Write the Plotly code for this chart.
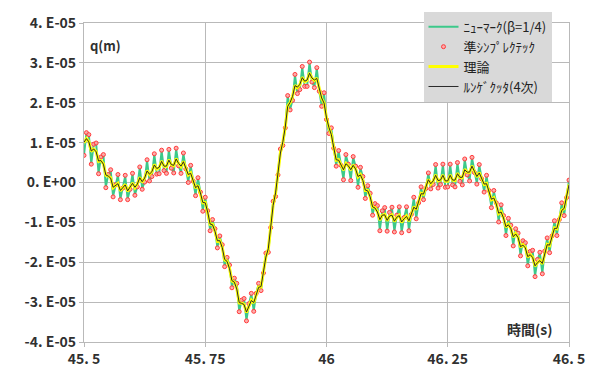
import numpy as np
import plotly.graph_objects as go

# Time grid: 45.5 s .. 46.5 s, step 0.005 s
T0 = 45.5
DT = 0.005
time = np.round(T0 + DT * np.arange(201), 3)

# Displacement q in units of 1e-5 m
SCALE = 1e-5

newmark_q = [
    0.70, 1.24, 1.19, 0.48, 0.95, 0.98, 0.24, 0.63, 0.69, -0.11,
    0.20, 0.30, -0.34, -0.06, 0.18, -0.41, -0.14, 0.16, -0.41, -0.17,
    0.21, -0.30, -0.10, 0.37, -0.15, 0.02, 0.55, 0.05, 0.16, 0.70,
    0.22, 0.23, 0.79, 0.31, 0.24, 0.81, 0.37, 0.25, 0.84, 0.43,
    0.25, 0.72, 0.34, 0.02, 0.41, 0.04, -0.31, 0.10, -0.24, -0.70,
    -0.39, -0.71, -1.19, -0.95, -1.17, -1.62, -1.36, -1.57, -2.09, -1.89,
    -2.08, -2.62, -2.41, -2.54, -3.22, -2.96, -2.92, -3.45, -3.05, -2.80,
    -3.21, -2.78, -2.55, -2.69, -2.27, -1.79, -1.73, -1.13, -0.49, -0.33,
    0.19, 0.82, 0.95, 1.37, 2.16, 1.84, 2.07, 2.69, 2.24, 2.34,
    2.89, 2.42, 2.42, 3.00, 2.53, 2.40, 2.86, 2.30, 1.93, 2.23,
    1.58, 1.25, 1.35, 0.86, 0.43, 0.78, 0.43, 0.09, 0.68, 0.46,
    0.07, 0.63, 0.40, -0.10, 0.36, 0.14, -0.38, -0.09, -0.28, -0.80,
    -0.54, -0.59, -1.19, -0.72, -0.64, -1.20, -0.76, -0.64, -1.22, -0.82,
    -0.63, -1.24, -0.88, -0.63, -1.19, -0.80, -0.39, -0.89, -0.51, -0.13,
    -0.41, -0.15, 0.22, -0.14, -0.04, 0.43, -0.12, -0.04, 0.44, -0.11,
    -0.10, 0.44, -0.05, -0.10, 0.48, 0.04, -0.04, 0.57, 0.20, 0.06,
    0.61, 0.25, -0.02, 0.43, 0.09, -0.22, 0.16, -0.20, -0.61, -0.22,
    -0.51, -0.97, -0.58, -0.84, -1.31, -0.92, -1.08, -1.57, -1.17, -1.28,
    -1.82, -1.47, -1.52, -2.07, -1.74, -1.71, -2.34, -1.94, -1.77, -2.27,
    -1.72, -1.41, -1.74, -1.34, -0.98, -1.31, -0.93, -0.53, -0.81, -0.38,
    0.05,
]

symplectic_q = [
    0.68, 1.25, 1.20, 0.46, 0.96, 0.99, 0.22, 0.64, 0.70, -0.13,
    0.20, 0.32, -0.36, -0.06, 0.20, -0.43, -0.14, 0.18, -0.43, -0.17,
    0.23, -0.32, -0.11, 0.39, -0.17, 0.01, 0.57, 0.04, 0.15, 0.72,
    0.21, 0.22, 0.81, 0.30, 0.23, 0.83, 0.36, 0.24, 0.86, 0.42,
    0.23, 0.74, 0.34, 0.00, 0.43, 0.04, -0.33, 0.12, -0.24, -0.72,
    -0.37, -0.71, -1.21, -0.93, -1.16, -1.64, -1.34, -1.56, -2.11, -1.88,
    -2.07, -2.64, -2.40, -2.53, -3.24, -2.95, -2.91, -3.47, -3.04, -2.78,
    -3.23, -2.78, -2.53, -2.71, -2.27, -1.77, -1.75, -1.13, -0.47, -0.35,
    0.19, 0.84, 0.93, 1.37, 2.18, 1.82, 2.06, 2.71, 2.23, 2.33,
    2.91, 2.41, 2.41, 3.02, 2.52, 2.38, 2.88, 2.29, 1.91, 2.25,
    1.58, 1.23, 1.37, 0.86, 0.41, 0.80, 0.43, 0.07, 0.70, 0.46,
    0.05, 0.65, 0.41, -0.12, 0.38, 0.15, -0.40, -0.08, -0.27, -0.82,
    -0.53, -0.58, -1.21, -0.71, -0.63, -1.22, -0.75, -0.62, -1.24, -0.82,
    -0.61, -1.26, -0.88, -0.61, -1.21, -0.80, -0.37, -0.91, -0.51, -0.11,
    -0.43, -0.15, 0.24, -0.16, -0.05, 0.45, -0.14, -0.05, 0.46, -0.12,
    -0.11, 0.46, -0.06, -0.11, 0.50, 0.03, -0.06, 0.59, 0.19, 0.04,
    0.63, 0.25, -0.04, 0.45, 0.09, -0.24, 0.18, -0.20, -0.63, -0.20,
    -0.51, -0.99, -0.56, -0.83, -1.33, -0.90, -1.07, -1.59, -1.16, -1.27,
    -1.84, -1.46, -1.51, -2.09, -1.73, -1.70, -2.36, -1.93, -1.75, -2.29,
    -1.72, -1.39, -1.76, -1.34, -0.96, -1.33, -0.93, -0.51, -0.83, -0.38,
    0.06,
]

theory_q = [
    1.00, 1.10, 1.03, 0.78, 0.84, 0.78, 0.53, 0.55, 0.47, 0.18,
    0.16, 0.12, -0.13, -0.07, -0.02, -0.21, -0.13, -0.05, -0.22, -0.13,
    -0.01, -0.13, -0.04, 0.13, 0.01, 0.11, 0.30, 0.20, 0.27, 0.45,
    0.34, 0.37, 0.54, 0.41, 0.40, 0.57, 0.45, 0.42, 0.60, 0.48,
    0.40, 0.53, 0.36, 0.19, 0.24, 0.04, -0.14, -0.07, -0.26, -0.51,
    -0.50, -0.74, -1.05, -1.05, -1.22, -1.47, -1.45, -1.63, -1.94, -1.97,
    -2.15, -2.47, -2.50, -2.66, -3.02, -3.03, -3.05, -3.26, -3.10, -2.95,
    -3.02, -2.81, -2.62, -2.62, -2.28, -1.86, -1.67, -1.13, -0.56, -0.27,
    0.20, 0.75, 1.01, 1.39, 1.92, 2.00, 2.16, 2.44, 2.38, 2.45,
    2.64, 2.53, 2.56, 2.75, 2.62, 2.56, 2.62, 2.37, 2.11, 2.00,
    1.62, 1.37, 1.21, 0.87, 0.56, 0.57, 0.42, 0.31, 0.48, 0.42,
    0.31, 0.44, 0.34, 0.14, 0.20, 0.05, -0.20, -0.20, -0.36, -0.62,
    -0.63, -0.73, -0.94, -0.82, -0.80, -0.96, -0.84, -0.81, -0.98, -0.87,
    -0.82, -1.00, -0.91, -0.84, -0.97, -0.80, -0.61, -0.68, -0.49, -0.27,
    -0.30, -0.12, 0.08, -0.04, 0.04, 0.19, 0.04, 0.06, 0.19, 0.03,
    0.03, 0.19, 0.06, 0.05, 0.23, 0.13, 0.12, 0.33, 0.26, 0.25,
    0.42, 0.28, 0.14, 0.25, 0.10, -0.05, -0.02, -0.21, -0.43, -0.38,
    -0.54, -0.78, -0.73, -0.89, -1.12, -1.05, -1.15, -1.37, -1.28, -1.37,
    -1.62, -1.56, -1.63, -1.87, -1.81, -1.87, -2.10, -2.01, -1.95, -2.04,
    -1.76, -1.55, -1.58, -1.35, -1.14, -1.16, -0.92, -0.69, -0.66, -0.35,
    -0.05,
]

runge_kutta_q = [
    1.01, 1.10, 1.02, 0.79, 0.84, 0.77, 0.54, 0.55, 0.46, 0.19,
    0.16, 0.11, -0.12, -0.07, -0.03, -0.20, -0.13, -0.06, -0.21, -0.13,
    -0.02, -0.12, -0.04, 0.12, 0.02, 0.11, 0.29, 0.21, 0.27, 0.44,
    0.35, 0.38, 0.53, 0.41, 0.41, 0.56, 0.45, 0.43, 0.59, 0.48,
    0.41, 0.52, 0.36, 0.20, 0.23, 0.04, -0.13, -0.08, -0.26, -0.50,
    -0.51, -0.74, -1.04, -1.06, -1.22, -1.46, -1.46, -1.63, -1.93, -1.98,
    -2.16, -2.46, -2.50, -2.67, -3.01, -3.03, -3.06, -3.25, -3.10, -2.96,
    -3.01, -2.81, -2.63, -2.61, -2.28, -1.87, -1.66, -1.13, -0.57, -0.26,
    0.20, 0.74, 1.02, 1.39, 1.91, 2.01, 2.16, 2.43, 2.39, 2.46,
    2.63, 2.54, 2.57, 2.74, 2.62, 2.57, 2.61, 2.37, 2.12, 1.99,
    1.62, 1.38, 1.20, 0.87, 0.57, 0.56, 0.42, 0.32, 0.47, 0.42,
    0.32, 0.43, 0.34, 0.15, 0.19, 0.05, -0.19, -0.21, -0.36, -0.61,
    -0.64, -0.74, -0.93, -0.82, -0.81, -0.95, -0.84, -0.82, -0.97, -0.87,
    -0.83, -0.99, -0.91, -0.85, -0.96, -0.80, -0.62, -0.67, -0.49, -0.28,
    -0.29, -0.12, 0.07, -0.03, 0.04, 0.18, 0.05, 0.06, 0.18, 0.04,
    0.04, 0.18, 0.06, 0.06, 0.22, 0.13, 0.13, 0.32, 0.26, 0.26,
    0.41, 0.28, 0.15, 0.24, 0.10, -0.04, -0.03, -0.21, -0.42, -0.39,
    -0.54, -0.77, -0.74, -0.89, -1.11, -1.06, -1.15, -1.36, -1.29, -1.38,
    -1.61, -1.57, -1.64, -1.86, -1.81, -1.88, -2.09, -2.01, -1.96, -2.03,
    -1.76, -1.56, -1.57, -1.35, -1.15, -1.15, -0.92, -0.70, -0.65, -0.35,
    -0.06,
]

series_names = ["ﾆｭｰﾏｰｸ(β=1/4)", "準ｼﾝﾌﾟﾚｸﾃｯｸ", "理論", "ﾙﾝｹﾞｸｯﾀ(4次)"]

x_tickvals = [45.5, 45.75, 46.0, 46.25, 46.5]
x_ticktext = ["45. 5", "45. 75", "46", "46. 25", "46. 5"]
y_tickvals = [v * SCALE for v in [4, 3, 2, 1, 0, -1, -2, -3, -4]]
y_ticktext = ["4. E-05", "3. E-05", "2. E-05", "1. E-05", "0. E+00",
              "-1. E-05", "-2. E-05", "-3. E-05", "-4. E-05"]

FONT = "Noto Sans CJK JP"
GRID = "#b9b9b9"
TEXT = "#303030"

fig = go.Figure()
fig.add_trace(go.Scatter(
    x=time, y=np.array(newmark_q) * SCALE, mode="lines", name=series_names[0],
    line=dict(color="#3cc98a", width=2),
))
fig.add_trace(go.Scatter(
    x=time, y=np.array(symplectic_q) * SCALE, mode="markers", name=series_names[1],
    marker=dict(size=4, color="rgba(255,165,165,0.9)",
                line=dict(color="#ff3a3a", width=1)),
))
fig.add_trace(go.Scatter(
    x=time, y=np.array(theory_q) * SCALE, mode="lines", name=series_names[2],
    line=dict(color="#ffff00", width=3),
))
fig.add_trace(go.Scatter(
    x=time, y=np.array(runge_kutta_q) * SCALE, mode="lines", name=series_names[3],
    line=dict(color="#2a2a2a", width=1),
))

tick_font = dict(family=FONT, size=14, color=TEXT, weight="bold")

fig.update_layout(
    width=597, height=380,
    margin=dict(l=84, r=25, t=16, b=28),
    paper_bgcolor="white", plot_bgcolor="white",
    font=dict(family=FONT, size=12, color=TEXT),
    showlegend=True,
    legend=dict(
        x=0.70, y=1.035, xanchor="left", yanchor="top",
        bgcolor="#d9d9d9", borderwidth=0,
        font=dict(family=FONT, size=13, color="#222"),
        tracegroupgap=0, itemwidth=30,
    ),
    xaxis=dict(
        range=[45.5, 46.5], tickvals=x_tickvals, ticktext=x_ticktext,
        showgrid=True, gridcolor=GRID, gridwidth=1.2,
        showline=True, linecolor=GRID, linewidth=1.2, mirror=True,
        ticks="outside", ticklen=4, tickcolor=GRID,
        zeroline=False, tickfont=tick_font,
    ),
    yaxis=dict(
        range=[-4e-5, 4e-5], tickvals=y_tickvals, ticktext=y_ticktext,
        showgrid=True, gridcolor=GRID, gridwidth=1.2,
        showline=True, linecolor=GRID, linewidth=1.2, mirror=True,
        ticks="outside", ticklen=4, tickcolor=GRID,
        zeroline=False, tickfont=tick_font,
    ),
    annotations=[
        dict(text="q(m)", xref="paper", yref="paper", x=0.008, y=0.93,
             xanchor="left", yanchor="middle", showarrow=False,
             font=dict(family=FONT, size=13, color=TEXT, weight="bold")),
        dict(text="時間(s)", xref="paper", yref="paper", x=0.972, y=0.042,
             xanchor="right", yanchor="middle", showarrow=False,
             font=dict(family=FONT, size=14, color=TEXT, weight="bold")),
    ],
)

fig.write_html("out.html")
